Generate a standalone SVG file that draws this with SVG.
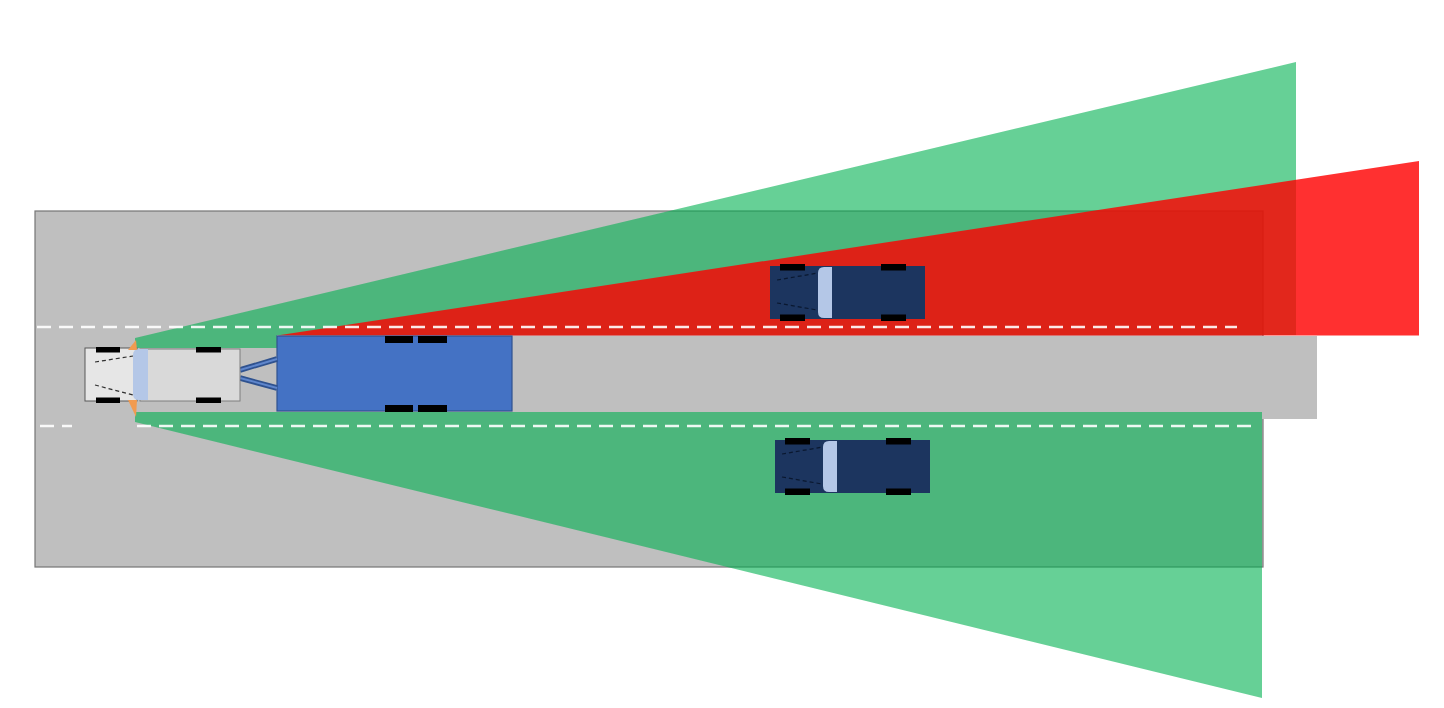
<svg xmlns="http://www.w3.org/2000/svg" xmlns:xlink="http://www.w3.org/1999/xlink" width="1444" height="708" viewBox="0 0 1444 708">
  <style>
    .road { fill: #BFBFBF; }
    .green { fill: #00B050; fill-opacity: 0.6; }
    .red { fill: #FF0000; fill-opacity: 0.81; }
    .wheel { fill: #000000; }
    .dash { stroke: #FFFFFF; stroke-width: 2.5; stroke-dasharray: 14 8; fill: none; opacity: 0.9; }
    .hood-line { stroke: #303030; stroke-width: 1.2; stroke-dasharray: 4 3; fill: none; }
    .car-line { stroke: #0A1830; stroke-width: 1.2; stroke-dasharray: 4 3; fill: none; }
    .glass { fill: #B4C7E7; }
    .sensor { fill: #F29B50; }
  </style>
  <defs>
    <g id="car-shape">
      <rect x="0" y="0" width="155" height="53" fill="#1C355F"/>
      <path class="glass" d="M54,1 H62 V52 H54 Q48,52 48,46 V7 Q48,1 54,1 Z"/>
      <line class="car-line" x1="7" y1="14" x2="48" y2="7"/>
      <line class="car-line" x1="7" y1="37" x2="47" y2="44"/>
      <rect class="wheel" x="10" y="-2" width="25" height="6.5"/>
      <rect class="wheel" x="111" y="-2" width="25" height="6.5"/>
      <rect class="wheel" x="10" y="48.5" width="25" height="6.5"/>
      <rect class="wheel" x="111" y="48.5" width="25" height="6.5"/>
    </g>
  </defs>
  <rect width="1444" height="708" fill="#FFFFFF"/>

  <g id="road">
    <rect class="road" x="35" y="211" width="1228" height="356" stroke="#767676" stroke-width="1.2"/>
    <rect class="road" x="512" y="336" width="805" height="83"/>
  </g>

  <g id="sensor-fields">
    <polygon id="field-left-upper" class="green" points="135,338 1296,62 1296,335 277,335 277,348 135,348"/>
    <polygon id="field-left-lower" class="green" points="135,412 1262,412 1262,698 135,422"/>
    <polygon id="field-rear-radar" class="red" points="277,335.5 1419,161 1419,335.5"/>
  </g>

  <g id="lane-markings">
    <line class="dash" x1="37" y1="327" x2="1237" y2="327"/>
    <line class="dash" x1="40" y1="426" x2="72" y2="426"/>
    <line class="dash" x1="137" y1="426" x2="1253" y2="426"/>
  </g>

  <g id="trailer">
    <rect x="277" y="336" width="235" height="75" fill="#4472C4" stroke="#2F528F" stroke-width="1.2"/>
    <rect class="wheel" x="385" y="336" width="28" height="7"/>
    <rect class="wheel" x="418" y="336" width="29" height="7"/>
    <rect class="wheel" x="385" y="405" width="28" height="7"/>
    <rect class="wheel" x="418" y="405" width="29" height="7"/>
  </g>

  <g id="truck">
    <g id="hitch" stroke="#2F528F" stroke-width="5.5" stroke-linecap="butt">
      <line x1="240" y1="370" x2="277" y2="359"/>
      <line x1="240" y1="378" x2="277" y2="388"/>
    </g>
    <g stroke="#5F86CC" stroke-width="2">
      <line x1="240" y1="370" x2="277" y2="359"/>
      <line x1="240" y1="378" x2="277" y2="388"/>
    </g>
    <rect x="85" y="348" width="52" height="53" fill="#E6E6E6" stroke="#595959" stroke-width="1"/>
    <rect x="140" y="349" width="100" height="52" fill="#D9D9D9" stroke="#7F7F7F" stroke-width="1"/>
    <path class="glass" d="M139,349 H148 V400 H139 Q133,400 133,394 V355 Q133,349 139,349 Z"/>
    <line class="hood-line" x1="95" y1="362" x2="133" y2="356"/>
    <line class="hood-line" x1="95" y1="385" x2="133" y2="395"/>
    <rect class="wheel" x="96" y="347" width="24" height="5.5"/>
    <rect class="wheel" x="196" y="347" width="25" height="5.5"/>
    <rect class="wheel" x="96" y="397.5" width="24" height="5.5"/>
    <rect class="wheel" x="196" y="397.5" width="25" height="5.5"/>
    <polygon class="sensor" points="128,350 137,350 136,340"/>
    <polygon class="sensor" points="128,400 137,400 136,417"/>
  </g>

  <g id="car-upper">
    <use xlink:href="#car-shape" transform="translate(770,266)"/>
  </g>
  <g id="car-lower">
    <use xlink:href="#car-shape" transform="translate(775,440)"/>
  </g>
</svg>
